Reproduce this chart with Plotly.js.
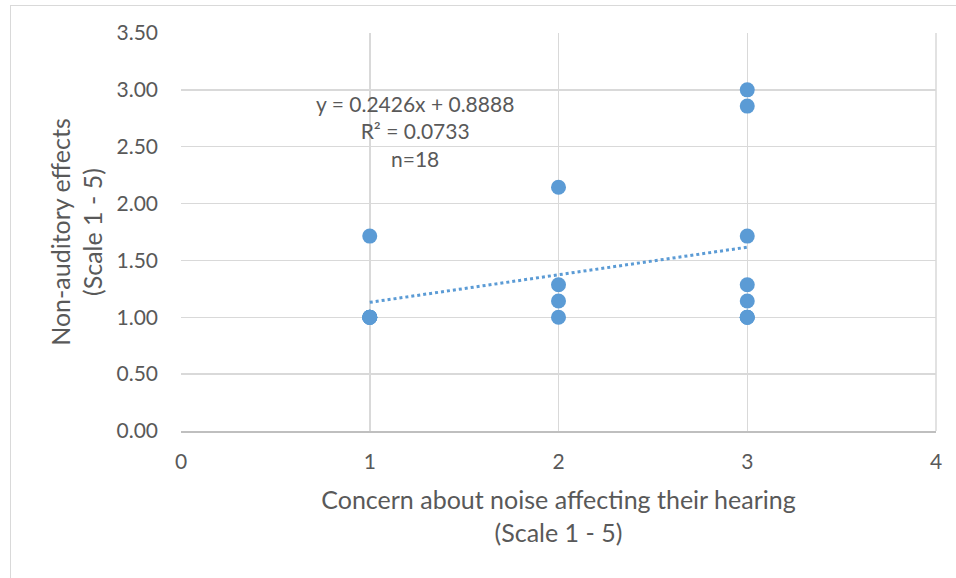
<!DOCTYPE html>
<html>
<head>
<meta charset="utf-8">
<script src="https://cdn.plot.ly/plotly-3.0.1.min.js"></script>
<style>
  html, body { margin: 0; padding: 0; background: #fff; }
  #wrap { position: relative; width: 956px; height: 578px; overflow: hidden; }
  #frame { position: absolute; left: 10px; top: 5px; width: 960px; height: 600px;
           border-top: 1.5px solid #d9d9d9; border-left: 1.5px solid #d9d9d9; }
  #chart { position: absolute; left: 0; top: 0; width: 956px; height: 578px; }
</style>
</head>
<body>
<div id="wrap">
  <div id="chart"></div>
  <div id="frame"></div>
</div>
<script>
// Concern about noise affecting hearing (x) vs non-auditory effects (y), n = 18
const concernX = [1, 1, 1, 1, 1, 1,
                  2, 2, 2, 2,
                  3, 3, 3, 3, 3, 3, 3, 3];
const effectsY = [1.714, 1.0, 1.0, 1.0, 1.0, 1.0,
                  2.143, 1.286, 1.143, 1.0,
                  3.0, 2.857, 1.714, 1.286, 1.143, 1.0, 1.0, 1.0];
const slope = 0.2426;
const intercept = 0.8888;
const trendX = [1, 3];
const trendY = trendX.map(x => slope * x + intercept);
const xTicks = [0, 1, 2, 3, 4];
const yTicks = [0, 0.5, 1, 1.5, 2, 2.5, 3, 3.5];
const yTickText = yTicks.map(v => v.toFixed(2));
const eqText = "y = 0.2426x + 0.8888<br>R² = 0.0733<br>n=18";

const FONT = "Lato, 'Open Sans', sans-serif";
const TXT = "#595959";
const BLUE = "#5b9bd5";

const traces = [
  {
    x: trendX, y: trendY, type: "scatter", mode: "lines",
    line: { color: BLUE, width: 3, dash: "dot" },
    hoverinfo: "skip", showlegend: false
  },
  {
    x: concernX, y: effectsY, type: "scatter", mode: "markers",
    marker: { color: BLUE, size: 15, line: { width: 0 } },
    showlegend: false
  }
];

const layout = {
  width: 956, height: 578,
  margin: { l: 181, r: 20, t: 33, b: 147 },
  paper_bgcolor: "#ffffff", plot_bgcolor: "#ffffff",
  font: { family: FONT, color: TXT, size: 21 },
  showlegend: false,
  xaxis: {
    range: [0, 4], tickvals: xTicks, ticktext: xTicks.map(String),
    showgrid: true, gridcolor: "#d9d9d9", gridwidth: 1.5,
    zeroline: false, showline: true, linecolor: "#bfbfbf", linewidth: 1.5,
    mirror: false, ticks: "", ticklabelstandoff: 11,
    tickfont: { family: FONT, size: 21, color: TXT },
    title: { text: "Concern about noise affecting their hearing<br>(Scale 1 - 5)",
             font: { family: FONT, size: 25, color: TXT }, standoff: 20 },
    fixedrange: true
  },
  yaxis: {
    range: [0, 3.5], tickvals: yTicks, ticktext: yTickText,
    showgrid: true, gridcolor: "#d9d9d9", gridwidth: 1.5,
    zeroline: false, showline: false,
    ticks: "", ticklabelstandoff: 22,
    tickfont: { family: FONT, size: 21, color: TXT },
    title: { text: "Non-auditory effects<br>(Scale 1 - 5)",
             font: { family: FONT, size: 25, color: TXT }, standoff: 6 },
    fixedrange: true
  },
  shapes: [
    { type: "line", xref: "paper", yref: "paper", x0: 1, x1: 1, y0: 0, y1: 1,
      line: { color: "#d9d9d9", width: 1.5 } }
  ],
  annotations: [
    { x: 1.24, y: 2.64, xref: "x", yref: "y", text: eqText, showarrow: false,
      align: "center", yanchor: "middle",
      font: { family: FONT, size: 21, color: TXT } }
  ]
};

Plotly.newPlot("chart", traces, layout, { staticPlot: true, displayModeBar: false });
</script>
</body>
</html>
